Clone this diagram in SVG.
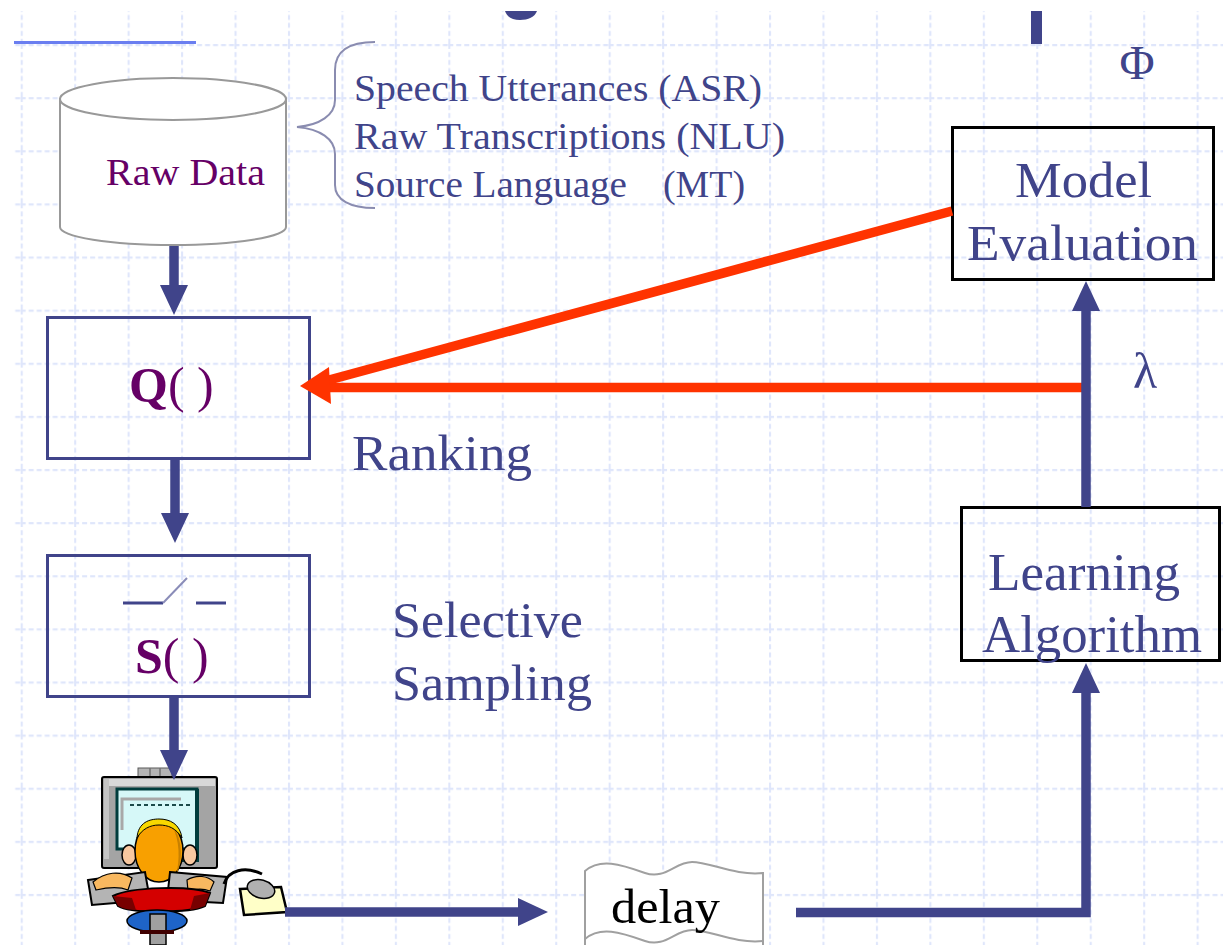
<svg xmlns="http://www.w3.org/2000/svg" width="1223" height="945" viewBox="0 0 1223 945">
  <defs>
    <pattern id="grid" patternUnits="userSpaceOnUse" x="20.7" y="44" width="53.45" height="53.12">
      <line x1="1" y1="0" x2="1" y2="53.12" stroke="#dfe6fb" stroke-width="2.2" stroke-dasharray="5 3"/>
      <line x1="0" y1="1" x2="53.45" y2="1" stroke="#dfe6fb" stroke-width="2.2" stroke-dasharray="5 3"/>
    </pattern>
    <marker id="navyHead" markerUnits="userSpaceOnUse" markerWidth="30" markerHeight="28" refX="15" refY="14" orient="auto">
      <path d="M0,0 L30,14 L0,28 z" fill="#40448a"/>
    </marker>
    <style>
      .serif { font-family: "Liberation Serif", "Times New Roman", serif; }
      .navy { fill: #40448a; }
      .purple { fill: #660066; }
      .navybox { fill: #ffffff; fill-opacity: 0; stroke: #40448a; stroke-width: 3; }
      .blackbox { fill: #ffffff; fill-opacity: 0; stroke: #000000; stroke-width: 3; }
      .conn { fill: none; stroke: #40448a; stroke-width: 9.5; }
      .red { fill: none; stroke: #ff3300; stroke-width: 9.5; }
    </style>
  </defs>

  <rect x="0" y="0" width="1223" height="945" fill="#ffffff"/>
  <rect x="14" y="11" width="1209" height="934" fill="url(#grid)"/>

  <!-- remnants of cropped title -->
  <line x1="14" y1="42.5" x2="196" y2="42.5" stroke="#6a7ef0" stroke-width="3"/>
  <path d="M505,11 L537,11 C535,17 528,20 520,20 C512,20 507,17 505,11 z" fill="#40448a"/>
  <rect x="1031" y="11" width="11" height="33" fill="#40448a"/>

  <!-- Raw Data cylinder -->
  <g id="rawdata">
    <path d="M60,98 V227 A113,18 0 0,0 286,227 V98" fill="#ffffff" stroke="#999999" stroke-width="2"/>
    <ellipse cx="173" cy="99" rx="113" ry="21" fill="#ffffff" stroke="#999999" stroke-width="2"/>
    <text class="serif purple" x="106" y="185" font-size="37" textLength="159" lengthAdjust="spacingAndGlyphs">Raw Data</text>
  </g>

  <!-- brace with data sources -->
  <g id="sources">
    <path d="M375,42 C350,42 335,50 335,70 V100 C335,115 320,125 297,127 C320,129 335,139 335,154 V185 C335,200 350,208 375,208" fill="none" stroke="#8a8cb0" stroke-width="2"/>
    <text class="serif navy" x="354" y="101" font-size="37" textLength="408" lengthAdjust="spacingAndGlyphs">Speech Utterances (ASR)</text>
    <text class="serif navy" x="354" y="149" font-size="37" textLength="431" lengthAdjust="spacingAndGlyphs">Raw Transcriptions (NLU)</text>
    <text class="serif navy" y="197" font-size="37"><tspan x="354" textLength="273" lengthAdjust="spacingAndGlyphs">Source Language</tspan><tspan x="663" textLength="82" lengthAdjust="spacingAndGlyphs">(MT)</tspan></text>
  </g>

  <!-- Q() box -->
  <g id="ranking">
    <rect class="navybox" x="47.5" y="317.5" width="262" height="141"/>
    <text class="serif purple" x="129" y="402" font-size="50"><tspan font-weight="bold">Q</tspan>( )</text>
  </g>
  <text class="serif navy" x="352" y="470" font-size="50" textLength="180" lengthAdjust="spacingAndGlyphs">Ranking</text>

  <!-- S() box -->
  <g id="sampling">
    <rect class="navybox" x="47.5" y="555.5" width="262" height="141"/>
    <path d="M123,603 H163" stroke="#40448a" stroke-width="3" fill="none"/>
    <path d="M163,603 L187,578" stroke="#8a8cb8" stroke-width="2" fill="none"/>
    <path d="M196,603 H226" stroke="#40448a" stroke-width="3" fill="none"/>
    <text class="serif purple" x="135" y="673" font-size="50"><tspan font-weight="bold">S</tspan>( )</text>
  </g>
  <text class="serif navy" x="392" y="637" font-size="50" textLength="191" lengthAdjust="spacingAndGlyphs">Selective</text>
  <text class="serif navy" x="392" y="700" font-size="50" textLength="200" lengthAdjust="spacingAndGlyphs">Sampling</text>

  <!-- Model Evaluation -->
  <g id="model-evaluation">
    <rect class="blackbox" x="952.5" y="127.5" width="261" height="152"/>
    <text class="serif navy" x="1015" y="197" font-size="50" textLength="137" lengthAdjust="spacingAndGlyphs">Model</text>
    <text class="serif navy" x="967" y="260" font-size="50" textLength="231" lengthAdjust="spacingAndGlyphs">Evaluation</text>
  </g>
  <text class="serif navy" x="1137" y="79" font-size="48" text-anchor="middle">Φ</text>
  <text class="serif navy" x="1145" y="388" font-size="50" text-anchor="middle">λ</text>

  <!-- Learning Algorithm -->
  <g id="learning-algorithm">
    <rect class="blackbox" x="961.5" y="507.5" width="258" height="153"/>
    <text class="serif navy" x="988" y="590" font-size="52" textLength="192" lengthAdjust="spacingAndGlyphs">Learning</text>
    <text class="serif navy" x="982" y="652" font-size="52" textLength="220" lengthAdjust="spacingAndGlyphs">Algorithm</text>
  </g>

  <!-- delay -->
  <g id="delay">
    <path d="M585,871 C600,858 620,864 645,873 C665,880 675,862 692,862 C710,862 735,876 763,873 V950 H585 z" fill="#ffffff" stroke="#a0a0a0" stroke-width="2"/>
    <path d="M585,939 C600,926 620,932 645,941 C665,948 675,930 692,930 C710,930 735,944 763,941" fill="none" stroke="#a0a0a0" stroke-width="2"/>
    <text class="serif" x="611" y="923" font-size="48" fill="#000000" textLength="109" lengthAdjust="spacingAndGlyphs">delay</text>
  </g>

  <!-- human operator clipart -->
  <g id="operator">
    <rect x="138" y="768" width="34" height="10" fill="#b4b4b4" stroke="#5a5a5a" stroke-width="1"/>
    <line x1="150" y1="768" x2="150" y2="777" stroke="#707070" stroke-width="1.5"/>
    <line x1="160" y1="768" x2="160" y2="777" stroke="#707070" stroke-width="1.5"/>
    <rect x="102" y="777" width="115" height="91" rx="2" fill="#a4a4a4" stroke="#000000" stroke-width="2"/>
    <rect x="104" y="779" width="111" height="7" fill="#d8d8d8"/>
    <rect x="104" y="779" width="5" height="80" fill="#c4c4c4"/>
    <rect x="117" y="789" width="80" height="60" fill="#d6f8f8" stroke="#003c3c" stroke-width="3"/>
    <path d="M197,789 V860 H160" fill="none" stroke="#003c3c" stroke-width="4"/>
    <path d="M122,830 V799 H181" fill="none" stroke="#a8a8a8" stroke-width="3"/>
    <line x1="130" y1="805" x2="190" y2="805" stroke="#1c4a4a" stroke-width="2" stroke-dasharray="4 3"/>
    <ellipse cx="129" cy="855" rx="7" ry="10" fill="#f8c8a0" stroke="#000000" stroke-width="1.5"/>
    <ellipse cx="190" cy="855" rx="7" ry="10" fill="#f8c8a0" stroke="#000000" stroke-width="1.5"/>
    <ellipse cx="159" cy="851" rx="24" ry="31" fill="#f8a000" stroke="#000000" stroke-width="1.5"/>
    <path d="M172,826 C182,836 184,860 176,876 C180,860 180,840 172,826 z" fill="#c88000"/>
    <path d="M137,838 C138,822 150,819 159,819 C170,819 180,824 182,838 C176,828 168,825 159,825 C150,825 142,829 137,838 z" fill="#f8d800" stroke="#000000" stroke-width="1"/>
    <path d="M88,880 L145,872 L150,900 L92,905 z" fill="#b4b4b4" stroke="#000000" stroke-width="2"/>
    <path d="M170,872 L227,877 L223,903 L167,900 z" fill="#b4b4b4" stroke="#000000" stroke-width="2"/>
    <path d="M93,882 C105,872 120,870 132,878 L128,890 C118,886 105,888 96,890 z" fill="#f8b860" stroke="#000000" stroke-width="1.2"/>
    <path d="M187,880 C197,874 208,876 214,882 L210,891 C202,888 195,889 188,891 z" fill="#f8b860" stroke="#000000" stroke-width="1.2"/>
    <path d="M113,896 C130,887 190,885 210,893 L205,906 C190,913 130,914 118,906 z" fill="#d40000" stroke="#000000" stroke-width="2"/>
    <path d="M113,896 L118,906 C124,909 130,910 136,910 L132,898 z" fill="#780000"/>
    <path d="M210,893 L205,906 C200,908 195,909 190,910 L194,896 z" fill="#780000"/>
    <ellipse cx="157" cy="921" rx="30" ry="11" fill="#1e64c8" stroke="#000000" stroke-width="1.5"/>
    <rect x="150" y="914" width="16" height="31" fill="#a0a0a0" stroke="#000000" stroke-width="1.5"/>
    <rect x="140" y="930" width="34" height="4" fill="#400000"/>
    <path d="M224,884 C228,870 245,866 262,874" fill="none" stroke="#000000" stroke-width="3"/>
    <path d="M240,889 L281,887 L287,912 L244,915 z" fill="#ffffc8" stroke="#000000" stroke-width="2.5"/>
    <ellipse cx="261" cy="889" rx="14" ry="9" fill="#b0b0b0" stroke="#000000" stroke-width="1.5" transform="rotate(15 261 889)"/>
  </g>

  <!-- connectors -->
  <g id="connectors">
    <line class="red" x1="1082" y1="387.5" x2="318" y2="387.5"/>
    <line class="red" x1="952" y1="211" x2="318" y2="383" stroke-width="10"/>
    <polygon points="300,386 329,367 331,404" fill="#ff3300"/>
    <line class="conn" x1="174" y1="246" x2="174" y2="300" marker-end="url(#navyHead)"/>
    <line class="conn" x1="175" y1="459" x2="175" y2="528" marker-end="url(#navyHead)"/>
    <line class="conn" x1="174" y1="697" x2="174" y2="765" marker-end="url(#navyHead)"/>
    <line class="conn" x1="285" y1="912" x2="533" y2="912" marker-end="url(#navyHead)"/>
    <path class="conn" d="M796,912.5 H1086 V678" marker-end="url(#navyHead)"/>
    <line class="conn" x1="1086" y1="507" x2="1086" y2="296" marker-end="url(#navyHead)"/>
  </g>
</svg>
